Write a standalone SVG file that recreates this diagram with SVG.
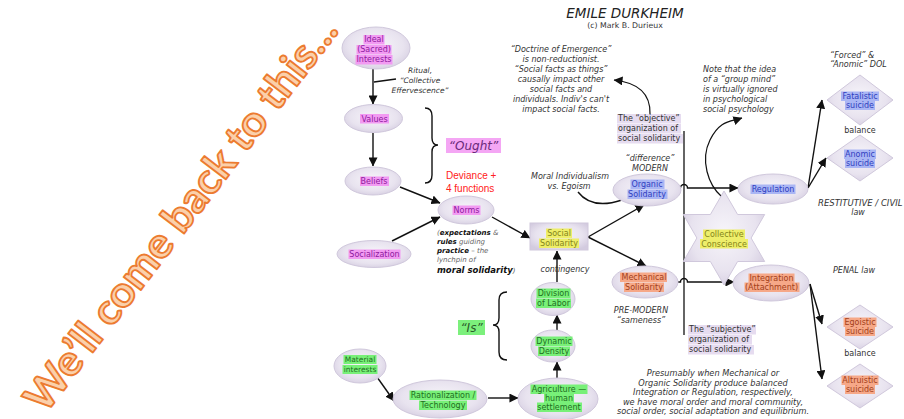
<svg xmlns="http://www.w3.org/2000/svg" width="904" height="419" viewBox="0 0 904 419">
<defs>
  <radialGradient id="gNode" cx="50%" cy="45%" r="62%">
    <stop offset="0" stop-color="#f7f5fa"/>
    <stop offset="0.65" stop-color="#e8e3ef"/>
    <stop offset="1" stop-color="#d3cbdf"/>
  </radialGradient>
  <marker id="ah" viewBox="0 0 10 10" refX="9.5" refY="5" markerWidth="9" markerHeight="9" markerUnits="userSpaceOnUse" orient="auto">
    <path d="M0,0 L10,5 L0,10 z" fill="#111"/>
  </marker>
  <filter id="soft" x="-10%" y="-30%" width="120%" height="160%">
    <feGaussianBlur stdDeviation="0.6"/>
  </filter>
</defs>
<style>
  .node{fill:url(#gNode);stroke:#d0c8dc;stroke-width:1}
  .t{font-family:"DejaVu Sans",Verdana,sans-serif;font-size:8px;text-anchor:middle}
  .hl{filter:url(#soft)}
  .pu{fill:#8e1a9e} .hpu{fill:#f29af2}
  .gr{fill:#1f6f1f} .hgr{fill:#78f078}
  .bl{fill:#3040c0} .hbl{fill:#aab6f4}
  .or{fill:#a3401a} .hor{fill:#f6a888}
  .ye{fill:#85851a} .hye{fill:#eeee6a}
  .ann{font-family:"DejaVu Sans",Verdana,sans-serif;font-size:8px;font-style:italic;fill:#333}
  .plain{font-family:"DejaVu Sans",Verdana,sans-serif;font-size:8px;fill:#333}
  .mid{text-anchor:middle}
  .cn path{fill:none;stroke:#111;stroke-width:1.4}
  .thin{fill:none;stroke:#444;stroke-width:0.9}
  .wm{font-family:Lato,"Open Sans",sans-serif;font-weight:700;font-size:42px;fill:#fbd0aa;stroke:#ec7b30;stroke-width:1.8;stroke-linejoin:round}
</style>

<rect width="904" height="419" fill="#ffffff"/>

<!-- title -->
<g id="title">
  <text x="625" y="18" font-family="DejaVu Sans,Verdana,sans-serif" font-size="13.5" font-style="italic" fill="#222" text-anchor="middle">EMILE DURKHEIM</text>
  <text x="625" y="28" font-family="DejaVu Sans,Verdana,sans-serif" font-size="7.8" fill="#333" text-anchor="middle">(c) Mark B. Durieux</text>
</g>

<!-- connectors -->
<g id="connectors" class="cn">
  <path d="M373 69 L373 104" marker-end="url(#ah)"/>
  <path d="M373 133 L373 166" marker-end="url(#ah)"/>
  <path d="M400 187 L440 203" marker-end="url(#ah)"/>
  <path d="M392 241 L440 217" marker-end="url(#ah)"/>
  <path d="M492 217 L530 238" marker-end="url(#ah)"/>
  <path d="M557 282 L557 251" marker-end="url(#ah)"/>
  <path d="M557 330 L557 315" marker-end="url(#ah)"/>
  <path d="M557 378 L557 362" marker-end="url(#ah)"/>
  <path d="M377 377 L394 401" marker-end="url(#ah)"/>
  <path d="M488 398 L518 398" marker-end="url(#ah)"/>
  <path d="M588 237 L644 205" marker-end="url(#ah)"/>
  <path d="M588 237 L646 266" marker-end="url(#ah)"/>
  <path d="M681 188 L680.5 188 A3.5 3.5 0 0 1 687.5 188 L738 188" marker-end="url(#ah)"/>
  <path d="M678 282 L680.5 282 A3.5 3.5 0 0 1 687.5 282 L734 282" marker-end="url(#ah)"/>
  <path d="M808 188 L822 100" marker-end="url(#ah)"/>
  <path d="M808 188 L826 158" marker-end="url(#ah)"/>
  <path d="M810 284 L822 324" marker-end="url(#ah)"/>
  <path d="M810 284 L822 379" marker-end="url(#ah)"/>
  <path d="M650 114 Q651 84 614 80" marker-end="url(#ah)" style="stroke-width:1.2"/>
  <path d="M722 197 C708 185 700 160 710 140 S730 122 742 118" marker-end="url(#ah)" style="stroke-width:1.2"/>
  <path d="M684 131 L684 335" style="stroke-width:1.3"/>
  <path class="thin" d="M374 82 L396 79"/>
  <path class="thin" d="M578 192 Q592 210 622 200"/>
  <!-- braces -->
  <path class="thin" d="M425 108 Q432 108 432 116 L432 138 Q432 145 438 145 Q432 145 432 152 L432 175 Q432 183 425 183"/>
  <path class="thin" d="M507 292 Q499 292 499 300 L499 318 Q499 325 493 325 Q499 325 499 332 L499 352 Q499 360 507 360"/>
</g>

<!-- purple nodes -->
<g id="n-ideal">
  <ellipse class="node" cx="376" cy="48" rx="34" ry="21"/>
  <g class="hl hpu">
    <rect x="363.5" y="35" width="21" height="9.5"/>
    <rect x="356.5" y="45" width="35" height="9.5"/>
    <rect x="355.5" y="55" width="37" height="9.5"/>
  </g>
  <text class="t pu"><tspan x="374" y="42">Ideal</tspan><tspan x="374" y="52">(Sacred)</tspan><tspan x="374" y="62">Interests</tspan></text>
</g>
<g id="n-values">
  <ellipse class="node" cx="373.5" cy="118.5" rx="29" ry="14"/>
  <rect class="hl hpu" x="360" y="114" width="29" height="9.5"/>
  <text class="t pu" x="374.5" y="121.5">Values</text>
</g>
<g id="n-beliefs">
  <ellipse class="node" cx="373" cy="181" rx="28" ry="14"/>
  <rect class="hl hpu" x="360" y="176.5" width="29" height="9.5"/>
  <text class="t pu" x="374" y="184">Beliefs</text>
</g>
<g id="n-norms">
  <ellipse class="node" cx="466" cy="210" rx="28" ry="14"/>
  <rect class="hl hpu" x="452.5" y="205.5" width="28" height="9.5"/>
  <text class="t pu" x="466.5" y="213">Norms</text>
</g>
<g id="n-socialization">
  <ellipse class="node" cx="374" cy="254" rx="37" ry="13.5"/>
  <rect class="hl hpu" x="348.5" y="249.5" width="52" height="9.5"/>
  <text class="t pu" x="374.5" y="257">Socialization</text>
</g>

<!-- central node -->
<g id="n-social-solidarity">
  <rect class="node" x="530" y="223" width="58" height="27"/>
  <g class="hl hye">
    <rect x="546" y="228.5" width="26" height="9.5"/>
    <rect x="539" y="238.5" width="40" height="9.5"/>
  </g>
  <text class="t ye"><tspan x="559" y="236">Social</tspan><tspan x="559" y="246">Solidarity</tspan></text>
</g>

<!-- green nodes -->
<g id="n-division">
  <ellipse class="node" cx="553" cy="299" rx="22" ry="16.5"/>
  <g class="hl hgr">
    <rect x="536.5" y="288.5" width="34" height="9.5"/>
    <rect x="536" y="298.5" width="35" height="9.5"/>
  </g>
  <text class="t gr"><tspan x="553.5" y="296">Division</tspan><tspan x="553.5" y="306">of Labor</tspan></text>
</g>
<g id="n-dynamic">
  <ellipse class="node" cx="553" cy="346" rx="22" ry="16"/>
  <g class="hl hgr">
    <rect x="535.5" y="336.5" width="37" height="9.5"/>
    <rect x="538" y="346.5" width="32" height="9.5"/>
  </g>
  <text class="t gr"><tspan x="554" y="344">Dynamic</tspan><tspan x="554" y="354">Density</tspan></text>
</g>
<g id="n-agriculture">
  <ellipse class="node" cx="558" cy="399" rx="40" ry="21"/>
  <g class="hl hgr">
    <rect x="530.5" y="384.5" width="57" height="9.5"/>
    <rect x="544" y="393.5" width="30" height="9.5"/>
    <rect x="537" y="402.5" width="45" height="9.5"/>
  </g>
  <text class="t gr"><tspan x="559" y="392">Agriculture —</tspan><tspan x="559" y="401">human</tspan><tspan x="559" y="410">settlement</tspan></text>
</g>
<g id="n-rationalization">
  <ellipse class="node" cx="440" cy="399" rx="47" ry="19"/>
  <g class="hl hgr">
    <rect x="409.5" y="390.5" width="67" height="9.5"/>
    <rect x="419" y="400.5" width="48" height="9.5"/>
  </g>
  <text class="t gr"><tspan x="443" y="398">Rationalization /</tspan><tspan x="443" y="408">Technology</tspan></text>
</g>
<g id="n-material">
  <ellipse class="node" cx="360" cy="366" rx="26" ry="17"/>
  <g class="hl hgr">
    <rect x="343.5" y="355" width="33" height="9"/>
    <rect x="342.5" y="365" width="35" height="9"/>
  </g>
  <text class="t gr" style="font-size:7.5px"><tspan x="360" y="362">Material</tspan><tspan x="360" y="372">interests</tspan></text>
</g>

<!-- blue nodes -->
<g id="n-organic">
  <ellipse class="node" cx="647" cy="190" rx="34" ry="16"/>
  <g class="hl hbl">
    <rect x="630.5" y="179.5" width="34" height="9.5"/>
    <rect x="627.5" y="189.5" width="40" height="9.5"/>
  </g>
  <text class="t bl"><tspan x="647" y="187">Organic</tspan><tspan x="647" y="197">Solidarity</tspan></text>
</g>
<g id="n-regulation">
  <ellipse class="node" cx="773" cy="189" rx="35" ry="15"/>
  <rect class="hl hbl" x="750.5" y="184.5" width="45" height="9.5"/>
  <text class="t bl" x="773" y="192">Regulation</text>
</g>
<g id="n-fatalistic">
  <polygon class="node" points="860,75 893,100 860,125 827,100"/>
  <g class="hl hbl">
    <rect x="841" y="91.5" width="38" height="9.5"/>
    <rect x="845" y="100.5" width="30" height="9.5"/>
  </g>
  <text class="t bl"><tspan x="860" y="99">Fatalistic</tspan><tspan x="860" y="108">suicide</tspan></text>
</g>
<g id="n-anomic">
  <polygon class="node" points="860,135 893,158 860,181 827,158"/>
  <g class="hl hbl">
    <rect x="844" y="149.5" width="32" height="9.5"/>
    <rect x="845" y="158.5" width="30" height="9.5"/>
  </g>
  <text class="t bl"><tspan x="860" y="157">Anomic</tspan><tspan x="860" y="166">suicide</tspan></text>
</g>

<!-- orange nodes -->
<g id="n-mechanical">
  <ellipse class="node" cx="645" cy="282" rx="33" ry="16"/>
  <g class="hl hor">
    <rect x="620" y="272.5" width="47" height="9.5"/>
    <rect x="624" y="282.5" width="40" height="9.5"/>
  </g>
  <text class="t or"><tspan x="644" y="280">Mechanical</tspan><tspan x="644" y="290">Solidarity</tspan></text>
</g>
<g id="n-integration">
  <ellipse class="node" cx="771" cy="283" rx="38" ry="18"/>
  <g class="hl hor">
    <rect x="748.5" y="273.5" width="46" height="9.5"/>
    <rect x="744.5" y="282.5" width="55" height="9.5"/>
  </g>
  <text class="t or"><tspan x="771.5" y="281">Integration</tspan><tspan x="771.5" y="290">(Attachment)</tspan></text>
</g>
<g id="n-egoistic">
  <polygon class="node" points="860,305 893,327 860,349 827,327"/>
  <g class="hl hor">
    <rect x="843.5" y="317.5" width="33" height="9.5"/>
    <rect x="845" y="326.5" width="30" height="9.5"/>
  </g>
  <text class="t or"><tspan x="860" y="325">Egoistic</tspan><tspan x="860" y="334">suicide</tspan></text>
</g>
<g id="n-altruistic">
  <polygon class="node" points="860,364 893,386 860,408 827,386"/>
  <g class="hl hor">
    <rect x="841.5" y="375.5" width="37" height="9.5"/>
    <rect x="845" y="384.5" width="30" height="9.5"/>
  </g>
  <text class="t or"><tspan x="860" y="383">Altruistic</tspan><tspan x="860" y="392">suicide</tspan></text>
</g>

<!-- collective conscience star -->
<g id="n-conscience">
  <polygon class="node" points="724,191 737.6,214.5 764.7,214.5 751.1,238 764.7,261.5 737.6,261.5 724,285 710.4,261.5 683.3,261.5 696.9,238 683.3,214.5 710.4,214.5"/>
  <g class="hl hye">
    <rect x="703" y="229.5" width="42" height="9.5"/>
    <rect x="700" y="239" width="48" height="9.5"/>
  </g>
  <text class="t ye"><tspan x="724" y="237">Collective</tspan><tspan x="724" y="246.5">Conscience</tspan></text>
</g>

<!-- labels -->
<g id="labels">
  <text class="ann mid" style="font-size:7.5px"><tspan x="420" y="73">Ritual,</tspan><tspan x="420" y="83">“Collective</tspan><tspan x="420" y="93">Effervescence”</tspan></text>

  <rect x="446" y="138" width="55" height="15" fill="#f4a6f4"/>
  <text x="473.5" y="150" font-family="DejaVu Sans,Verdana,sans-serif" font-size="12" font-style="italic" fill="#6a2a7a" text-anchor="middle">“Ought”</text>

  <text font-family="Liberation Sans,Arial,sans-serif" font-size="10" fill="#ff2020"><tspan x="446" y="179">Deviance +</tspan><tspan x="446" y="192">4 functions</tspan></text>

  <text class="ann" style="font-size:7px;fill:#666"><tspan x="437" y="235">(<tspan font-weight="bold" fill="#111">expectations</tspan> &amp;</tspan><tspan x="437" y="244"><tspan font-weight="bold" fill="#111">rules</tspan> guiding</tspan><tspan x="437" y="253"><tspan font-weight="bold" fill="#111">practice</tspan> – the</tspan><tspan x="437" y="262">lynchpin of</tspan><tspan x="437" y="273"><tspan font-weight="bold" fill="#111" style="font-size:8.5px">moral solidarity</tspan>)</tspan></text>

  <text class="ann mid" x="565" y="272">contingency</text>

  <rect x="458" y="320" width="27" height="15" fill="#7cf07c"/>
  <text x="471.5" y="332" font-family="DejaVu Sans,Verdana,sans-serif" font-size="12" font-style="italic" fill="#2a5a2a" text-anchor="middle">“Is”</text>

  <text class="ann mid"><tspan x="561" y="52">“Doctrine of Emergence”</tspan><tspan x="561" y="62">is non-reductionist.</tspan><tspan x="561" y="72">“Social facts as things”</tspan><tspan x="561" y="82">causally impact other</tspan><tspan x="561" y="92">social facts and</tspan><tspan x="561" y="102">individuals. Indiv's can't</tspan><tspan x="561" y="112">impact social facts.</tspan></text>

  <g fill="#e6dcf0">
    <rect x="617" y="114" width="64" height="9.5"/>
    <rect x="617" y="124" width="64" height="9.5"/>
    <rect x="617" y="134" width="66" height="9.5"/>
  </g>
  <text class="plain"><tspan x="618" y="121">The “objective”</tspan><tspan x="618" y="131">organization of</tspan><tspan x="618" y="141">social solidarity</tspan></text>

  <text class="ann"><tspan x="703" y="72">Note that the idea</tspan><tspan x="703" y="82">of a “group mind”</tspan><tspan x="703" y="92">is virtually ignored</tspan><tspan x="703" y="102">in psychological</tspan><tspan x="703" y="112">social psychology</tspan></text>

  <text class="ann"><tspan x="830" y="58">“Forced” &amp;</tspan><tspan x="830" y="67">“Anomic” DOL</tspan></text>
  <text class="plain mid" x="860" y="133">balance</text>

  <text class="ann mid"><tspan x="650" y="161">“difference”</tspan><tspan x="650" y="171">MODERN</tspan></text>
  <text class="ann mid"><tspan x="570" y="179">Moral Individualism</tspan><tspan x="569" y="189">vs. Egoism</tspan></text>

  <text class="ann" style="font-size:8.5px" x="818" y="206">RESTITUTIVE / CIVIL</text>
  <text class="ann mid" x="858" y="215">law</text>
  <text class="ann" x="833" y="273">PENAL law</text>

  <text class="ann mid"><tspan x="641" y="313">PRE-MODERN</tspan><tspan x="641" y="323">“sameness”</tspan></text>

  <g fill="#e6dcf0">
    <rect x="688" y="325" width="68" height="9.5"/>
    <rect x="688" y="335" width="64" height="9.5"/>
    <rect x="688" y="345" width="66" height="9.5"/>
  </g>
  <text class="plain"><tspan x="689" y="332">The “subjective”</tspan><tspan x="689" y="342">organization of</tspan><tspan x="689" y="352">social solidarity</tspan></text>
  <text class="plain mid" x="860" y="356">balance</text>

  <text class="ann mid" style="font-size:8.2px"><tspan x="713" y="376">Presumably when Mechanical or</tspan><tspan x="713" y="385.5">Organic Solidarity produce balanced</tspan><tspan x="713" y="395">Integration or Regulation, respectively,</tspan><tspan x="713" y="404.5">we have moral order and moral community,</tspan><tspan x="713" y="414">social order, social adaptation and equilibrium.</tspan></text>
</g>

<!-- overlay note -->
<text class="wm" x="45" y="415" transform="rotate(-52.5 45 415)" textLength="484" lengthAdjust="spacingAndGlyphs">We’ll come back to this...</text>
</svg>
